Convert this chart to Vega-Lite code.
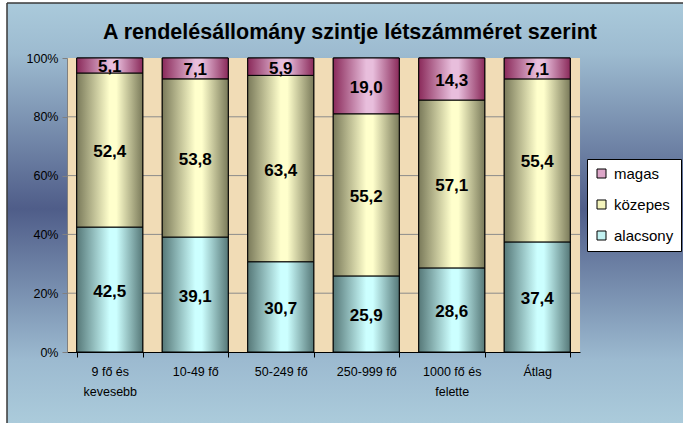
{
  "$schema": "https://vega.github.io/schema/vega-lite/v6.json",
  "width": 676,
  "height": 420,
  "autosize": "none",
  "padding": {"left": 7, "top": 3, "right": 0, "bottom": 0},
  "title": {"text": "A rendelésállomány szintje létszámméret szerint", "font": "Liberation Sans", "fontSize": 21.5, "fontWeight": "bold", "color": "#000000", "anchor": "middle", "dx": 5, "offset": 0, "dy": 41},
  "config": {
    "locale": {"number": {"decimal": ",", "thousands": " ", "grouping": [3], "currency": ["", " Ft"]}},
    "font": "Liberation Sans",
    "view": {"fill": null, "stroke": null}
  },
  "data": {"values": [
    {"cat": "9 fő és kevesebb", "level": "alacsony", "order": 1, "value": 42.5},
    {"cat": "9 fő és kevesebb", "level": "közepes", "order": 2, "value": 52.4},
    {"cat": "9 fő és kevesebb", "level": "magas", "order": 3, "value": 5.1},
    {"cat": "10-49 fő", "level": "alacsony", "order": 1, "value": 39.1},
    {"cat": "10-49 fő", "level": "közepes", "order": 2, "value": 53.8},
    {"cat": "10-49 fő", "level": "magas", "order": 3, "value": 7.1},
    {"cat": "50-249 fő", "level": "alacsony", "order": 1, "value": 30.7},
    {"cat": "50-249 fő", "level": "közepes", "order": 2, "value": 63.4},
    {"cat": "50-249 fő", "level": "magas", "order": 3, "value": 5.9},
    {"cat": "250-999 fő", "level": "alacsony", "order": 1, "value": 25.9},
    {"cat": "250-999 fő", "level": "közepes", "order": 2, "value": 55.2},
    {"cat": "250-999 fő", "level": "magas", "order": 3, "value": 19.0},
    {"cat": "1000 fő és felette", "level": "alacsony", "order": 1, "value": 28.6},
    {"cat": "1000 fő és felette", "level": "közepes", "order": 2, "value": 57.1},
    {"cat": "1000 fő és felette", "level": "magas", "order": 3, "value": 14.3},
    {"cat": "Átlag", "level": "alacsony", "order": 1, "value": 37.4},
    {"cat": "Átlag", "level": "közepes", "order": 2, "value": 55.4},
    {"cat": "Átlag", "level": "magas", "order": 3, "value": 7.1}
  ]},
  "transform": [
    {"stack": "value", "groupby": ["cat"], "sort": [{"field": "order", "order": "ascending"}], "offset": "normalize", "as": ["y0", "y1"]},
    {"calculate": "(datum.y0 + datum.y1) / 2", "as": "ymid"}
  ],
  "layer": [
    {
      "data": {"values": [{}]},
      "mark": {"type": "rect", "stroke": "#3a3a3a", "strokeWidth": 1.5, "strokeDash": [676, 1096, 420, 0],
        "color": {"gradient": "linear", "x1": 0, "y1": 0, "x2": 0, "y2": 1, "stops": [{"offset": 0, "color": "#aacadb"}, {"offset": 0.12, "color": "#9dbbd0"}, {"offset": 0.49, "color": "#4f5d89"}, {"offset": 0.85, "color": "#9cbad0"}, {"offset": 1, "color": "#abcbdb"}]}},
      "encoding": {}
    },
    {
      "data": {"values": [{}]},
      "mark": {"type": "rect", "color": "#f1dcb6"},
      "encoding": {
        "x": {"datum": "9 fő és kevesebb", "type": "nominal", "bandPosition": -0.136},
        "x2": {"datum": "Átlag", "bandPosition": 1.148},
        "y": {"datum": 0, "type": "quantitative"},
        "y2": {"datum": 1}
      }
    },
    {
      "data": {"values": [{}]},
      "mark": {"type": "rule", "color": "#8c8c8c", "strokeWidth": 1},
      "encoding": {"x": {"datum": "9 fő és kevesebb", "type": "nominal", "bandPosition": -0.136}, "x2": {"datum": "Átlag", "bandPosition": 1.148}, "y": {"datum": 0.2, "type": "quantitative"}}
    },
    {
      "data": {"values": [{}]},
      "mark": {"type": "rule", "color": "#8c8c8c", "strokeWidth": 1},
      "encoding": {"x": {"datum": "9 fő és kevesebb", "type": "nominal", "bandPosition": -0.136}, "x2": {"datum": "Átlag", "bandPosition": 1.148}, "y": {"datum": 0.4, "type": "quantitative"}}
    },
    {
      "data": {"values": [{}]},
      "mark": {"type": "rule", "color": "#8c8c8c", "strokeWidth": 1},
      "encoding": {"x": {"datum": "9 fő és kevesebb", "type": "nominal", "bandPosition": -0.136}, "x2": {"datum": "Átlag", "bandPosition": 1.148}, "y": {"datum": 0.6, "type": "quantitative"}}
    },
    {
      "data": {"values": [{}]},
      "mark": {"type": "rule", "color": "#8c8c8c", "strokeWidth": 1},
      "encoding": {"x": {"datum": "9 fő és kevesebb", "type": "nominal", "bandPosition": -0.136}, "x2": {"datum": "Átlag", "bandPosition": 1.148}, "y": {"datum": 0.8, "type": "quantitative"}}
    },
    {
      "mark": {"type": "bar", "stroke": "#000000", "strokeWidth": 1},
      "encoding": {
        "x": {"field": "cat", "type": "nominal", "sort": null,
          "scale": {"domain": ["9 fő és kevesebb", "10-49 fő", "50-249 fő", "250-999 fő", "1000 fő és felette", "Átlag"], "range": [60, 573], "paddingInner": 0.228, "paddingOuter": 0.114},
          "axis": {"title": null, "orient": "bottom", "offset": -71, "zindex": 1, "labelAngle": 0, "labelAlign": "center", "labelBaseline": "top", "labelFontSize": 12.5, "labelColor": "#000000", "labelPadding": 8, "labelLineHeight": 20,
            "labelExpr": "datum.label == '9 fő és kevesebb' ? ['9 fő és', 'kevesebb'] : datum.label == '1000 fő és felette' ? ['1000 fő és', 'felette'] : datum.label",
            "tickBand": "extent", "tickSize": 5, "tickColor": "#000000", "domainColor": "#000000", "grid": false}},
        "y": {"field": "y0", "type": "quantitative", "scale": {"domain": [0, 1], "range": [349, 55]},
          "axis": {"title": null, "orient": "left", "offset": -60, "zindex": 1, "values": [0, 0.2, 0.4, 0.6, 0.8, 1], "format": ".0%", "labelFontSize": 12.5, "labelColor": "#000000", "labelPadding": 4,
            "tickSize": 5, "tickColor": "#808080", "domainColor": "#808080", "grid": false}},
        "y2": {"field": "y1"},
        "color": {"field": "level", "type": "nominal",
          "scale": {"domain": ["magas", "közepes", "alacsony"], "range": ["#dca6c8", "#f4f4bc", "#c2f2f2"]},
          "legend": {"title": null, "orient": "none", "legendX": 580, "legendY": 156, "fillColor": "#ffffff", "strokeColor": "#000000", "padding": 7,
            "symbolType": "square", "symbolSize": 81, "symbolStrokeColor": "#000000", "symbolStrokeWidth": 1, "labelFontSize": 15, "labelOffset": 5, "labelColor": "#000000", "rowPadding": 15}}
      }
    },
    {
      "transform": [{"filter": "datum.level == 'alacsony'"}],
      "mark": {"type": "bar", "stroke": "#000000", "strokeWidth": 1,
        "color": {"gradient": "linear", "x1": 0, "y1": 0, "x2": 1, "y2": 0, "stops": [{"offset": 0, "color": "#567878"}, {"offset": 0.5, "color": "#ccffff"}, {"offset": 0.6, "color": "#ccffff"}, {"offset": 1, "color": "#567878"}]}},
      "encoding": {"x": {"field": "cat", "type": "nominal", "sort": null}, "y": {"field": "y0", "type": "quantitative"}, "y2": {"field": "y1"}}
    },
    {
      "transform": [{"filter": "datum.level == 'közepes'"}],
      "mark": {"type": "bar", "stroke": "#000000", "strokeWidth": 1,
        "color": {"gradient": "linear", "x1": 0, "y1": 0, "x2": 1, "y2": 0, "stops": [{"offset": 0, "color": "#7a7a5a"}, {"offset": 0.5, "color": "#ffffcc"}, {"offset": 0.6, "color": "#ffffcc"}, {"offset": 1, "color": "#7a7a5a"}]}},
      "encoding": {"x": {"field": "cat", "type": "nominal", "sort": null}, "y": {"field": "y0", "type": "quantitative"}, "y2": {"field": "y1"}}
    },
    {
      "transform": [{"filter": "datum.level == 'magas'"}],
      "mark": {"type": "bar", "stroke": "#000000", "strokeWidth": 1,
        "color": {"gradient": "linear", "x1": 0, "y1": 0, "x2": 1, "y2": 0, "stops": [{"offset": 0, "color": "#8a2a5a"}, {"offset": 0.5, "color": "#e8bedc"}, {"offset": 0.6, "color": "#e8bedc"}, {"offset": 1, "color": "#8a2a5a"}]}},
      "encoding": {"x": {"field": "cat", "type": "nominal", "sort": null}, "y": {"field": "y0", "type": "quantitative"}, "y2": {"field": "y1"}}
    },
    {
      "mark": {"type": "text", "fontSize": 17, "fontWeight": "bold", "color": "#000000", "baseline": "middle", "dy": 2},
      "encoding": {
        "x": {"field": "cat", "type": "nominal", "sort": null},
        "y": {"field": "ymid", "type": "quantitative"},
        "text": {"field": "value", "type": "quantitative", "format": ".1f"}
      }
    }
  ]
}
